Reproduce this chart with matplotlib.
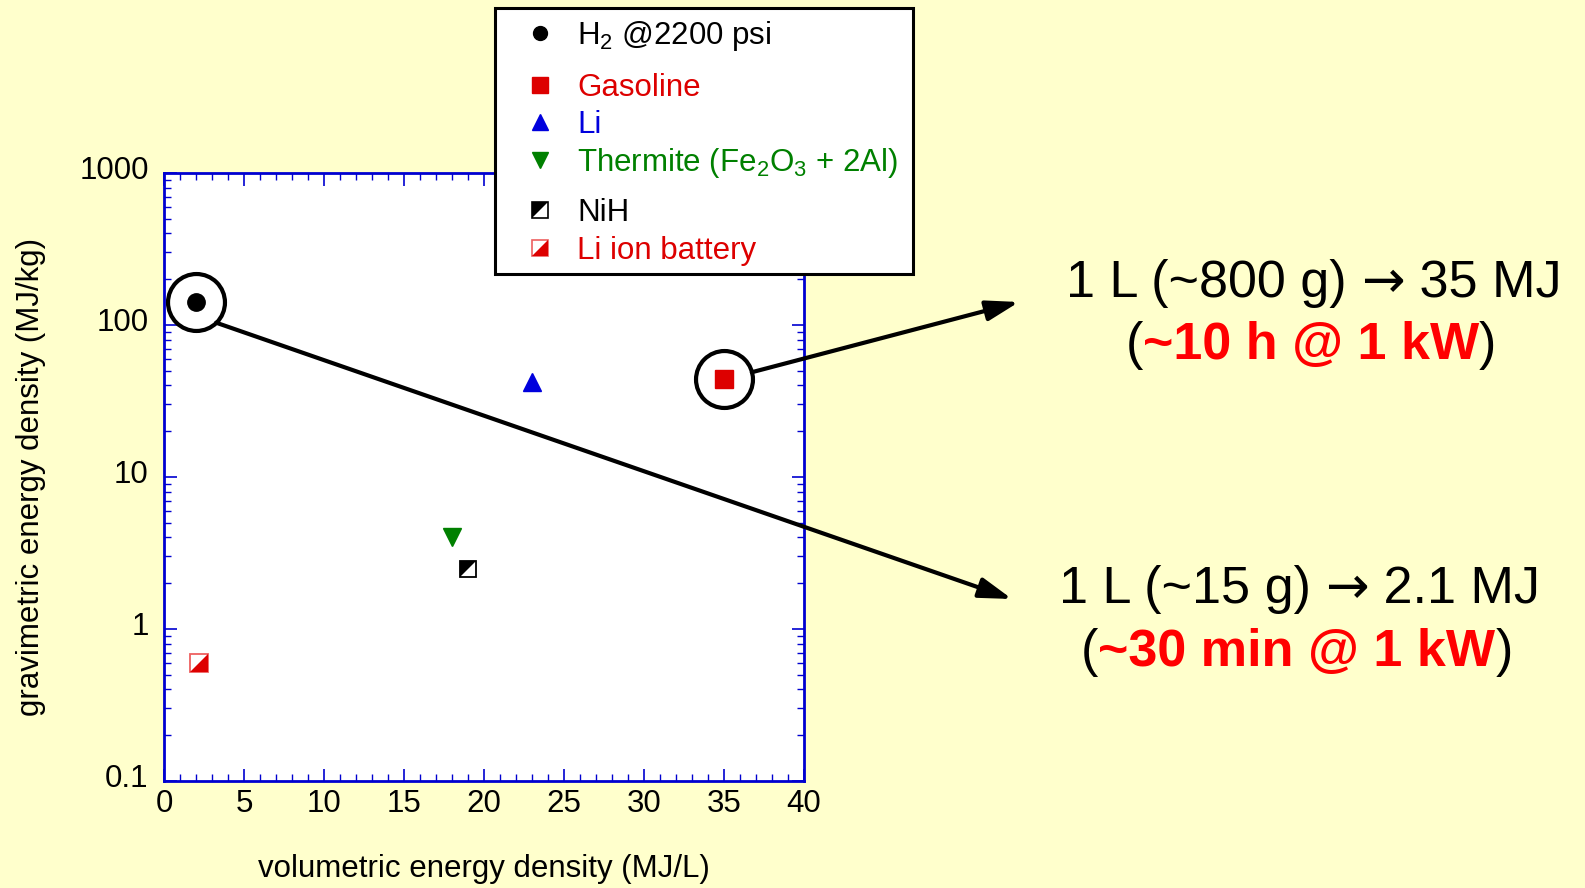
import matplotlib
matplotlib.use('Agg')
import matplotlib.pyplot as plt
import numpy as np
from matplotlib.path import Path
from matplotlib.lines import Line2D
from matplotlib.patches import Rectangle, ConnectionPatch
from matplotlib.ticker import LogLocator, MultipleLocator, FixedLocator, NullFormatter
import matplotlib.transforms as mtransforms

plt.rcParams['font.family'] = ['Liberation Sans', 'DejaVu Sans']
plt.rcParams['mathtext.fontset'] = 'custom'
plt.rcParams['mathtext.rm'] = 'Liberation Sans'
plt.rcParams['mathtext.it'] = 'Liberation Sans:italic'
plt.rcParams['mathtext.bf'] = 'Liberation Sans:bold'
plt.rcParams['mathtext.default'] = 'regular'

# ---------------- data ----------------
materials = ['H2 @2200 psi', 'Gasoline', 'Li', 'Thermite', 'NiH', 'Li ion battery']
legend_labels = [r'H$_2$ @2200 psi', 'Gasoline', 'Li',
                 r'Thermite (Fe$_2$O$_3$ + 2Al)', 'NiH', 'Li ion battery']
vol_density = [2.0, 35.0, 23.0, 18.0, 19.0, 2.2]       # MJ/L
grav_density = [142.0, 44.0, 42.0, 4.0, 2.5, 0.6]      # MJ/kg
colors = ['black', '#DD0000', '#0000DD', '#008000', 'black', '#DD0000']
x_ticks = [0, 5, 10, 15, 20, 25, 30, 35, 40]
y_ticks = [0.1, 1, 10, 100, 1000]
y_tick_labels = ['0.1', '1', '10', '100', '1000']
note_gasoline = ['1 L (~800 g) ', '\u2192', ' 35 MJ', '~10 h @ 1 kW']
note_h2 = ['1 L (~15 g) ', '\u2192', ' 2.1 MJ', '~30 min @ 1 kW']

W, H = 1585, 888
BG = '#FFFFCC'
SPINE = '#0000D0'

def fx(px):
    return px / W

def fy(py):
    return 1 - py / H

fig = plt.figure(figsize=(W / 100, H / 100), dpi=100, facecolor=BG)
ax = fig.add_axes([fx(164), fy(781), fx(804) - fx(164), fy(173) - fy(781)])
ax.set_facecolor('white')
ax.set_yscale('log')
ax.set_xlim(0, 40)
ax.set_ylim(0.1, 1000)

for s in ax.spines.values():
    s.set_color(SPINE)
    s.set_linewidth(2)

ax.xaxis.set_major_locator(FixedLocator(x_ticks))
ax.xaxis.set_minor_locator(MultipleLocator(1))
ax.set_xticks(x_ticks)
ax.set_xticklabels([str(t) for t in x_ticks])
ax.yaxis.set_major_locator(FixedLocator(y_ticks))
ax.set_yticks(y_ticks)
ax.set_yticklabels(y_tick_labels)
ax.yaxis.set_minor_locator(LogLocator(base=10, subs=np.arange(2, 10)))
ax.yaxis.set_minor_formatter(NullFormatter())
ax.tick_params(which='both', direction='in', top=True, right=True, color=SPINE,
               labelsize=22.5, labelcolor='black')
ax.tick_params(axis='x', which='both', pad=6)
ax.tick_params(axis='y', which='both', pad=11)
ax.tick_params(which='major', length=9, width=1.2)
ax.tick_params(which='minor', length=5, width=1.0)
# y tick labels sit slightly above their ticks in the reference
yoff = mtransforms.ScaledTranslation(0, 4 / 72, fig.dpi_scale_trans)
for lab in ax.get_yticklabels():
    lab.set_transform(lab.get_transform() + yoff)

# custom half-filled square markers
tri_ul = Path([(-1, -1), (-1, 1), (1, 1), (-1, -1)], closed=True)
tri_lr = Path([(-1, -1), (1, -1), (1, 1), (-1, -1)], closed=True)

# ---------------- data points ----------------
ax.plot(vol_density[0], grav_density[0], 'o', ms=12.5, color=colors[0], zorder=5)
ax.plot(vol_density[1], grav_density[1], 's', ms=13, color=colors[1], zorder=5)
ax.plot(vol_density[2], grav_density[2], '^', ms=12.5, color=colors[2], zorder=5)
ax.plot(vol_density[3], grav_density[3], 'v', ms=13, color=colors[3], zorder=5)
ax.plot(vol_density[4], grav_density[4], 's', ms=12, mfc='white', mec=colors[4], mew=1.3, zorder=5)
ax.plot(vol_density[4], grav_density[4], marker=tri_ul, ms=12, color=colors[4], mew=0, ls='none', zorder=6)
ax.plot(vol_density[5], grav_density[5], 's', ms=12.5, mfc='white', mec='#EE6060', mew=1.3, zorder=5)
ax.plot(vol_density[5], grav_density[5], marker=tri_lr, ms=12.5, color=colors[5], mew=0, ls='none', zorder=6)

# highlight circles
for i in (0, 1):
    ax.plot(vol_density[i], grav_density[i], 'o', ms=41, mfc='none', mec='black', mew=3,
            zorder=7, clip_on=False)

# ---------------- arrows ----------------
start_h2 = mtransforms.offset_copy(ax.transData, fig=fig, x=14.5, y=-15, units='points')
start_gas = mtransforms.offset_copy(ax.transData, fig=fig, x=20, y=5, units='points')
arrow_kw = dict(arrowstyle='-|>,head_length=0.9,head_width=0.28', mutation_scale=22,
                lw=3, color='black', zorder=8, shrinkA=0, shrinkB=0)
cp1 = ConnectionPatch(xyA=(vol_density[0], grav_density[0]), coordsA=start_h2,
                      xyB=(fx(1012), fy(599)), coordsB='figure fraction', **arrow_kw)
cp2 = ConnectionPatch(xyA=(vol_density[1], grav_density[1]), coordsA=start_gas,
                      xyB=(fx(1019), fy(302)), coordsB='figure fraction', **arrow_kw)
cp1.set_clip_on(False)
cp2.set_clip_on(False)
fig.add_artist(cp1)
fig.add_artist(cp2)

# ---------------- axis labels ----------------
fig.text(fx(484), fy(869), 'volumetric energy density (MJ/L)', ha='center', va='center',
         fontsize=22.5)
fig.text(fx(31), fy(477), 'gravimetric energy density (MJ/kg)', ha='center', va='center',
         rotation=90, fontsize=22.5)

# ---------------- legend (manual) ----------------
leg_box = Rectangle((fx(495), fy(274)), fx(913) - fx(495), fy(8) - fy(274),
                    transform=fig.transFigure, facecolor='white', edgecolor='black',
                    lw=2.2, zorder=20)
fig.add_artist(leg_box)
row_y = [33, 85, 122, 160, 210, 248]
mk_x = 540
tx_x = 577
leg_markers = [dict(marker='o', ms=10, color=colors[0]),
               dict(marker='s', ms=11, color=colors[1]),
               dict(marker='^', ms=11, color=colors[2]),
               dict(marker='v', ms=11, color=colors[3])]
for i in range(4):
    fig.add_artist(Line2D([fx(mk_x)], [fy(row_y[i])], transform=fig.transFigure,
                          ls='none', zorder=21, **leg_markers[i]))
fig.add_artist(Line2D([fx(mk_x)], [fy(row_y[4])], transform=fig.transFigure, ls='none',
                      marker='s', ms=11, mfc='white', mec='black', mew=1.2, zorder=21))
fig.add_artist(Line2D([fx(mk_x)], [fy(row_y[4])], transform=fig.transFigure, ls='none',
                      marker=tri_ul, ms=11, color='black', mew=0, zorder=22))
fig.add_artist(Line2D([fx(mk_x)], [fy(row_y[5])], transform=fig.transFigure, ls='none',
                      marker='s', ms=11, mfc='white', mec='#EE6060', mew=1.2, zorder=21))
fig.add_artist(Line2D([fx(mk_x)], [fy(row_y[5])], transform=fig.transFigure, ls='none',
                      marker=tri_lr, ms=11, color=colors[5], mew=0, zorder=22))
for i, lab in enumerate(legend_labels):
    fig.text(fx(tx_x), fy(row_y[i] + 11), lab, ha='left', va='baseline',
             fontsize=22.5, color=colors[i], zorder=23)

# ---------------- annotation texts ----------------
BIG = 37.5

def note(parts, arrow_cx, cx2, base1, base2):
    arr = fig.text(fx(arrow_cx), fy(base1), parts[1], ha='center', va='baseline',
                   fontsize=BIG, color='black', family=['DejaVu Sans'])
    fig.text(0, fy(base1), parts[0], ha='right', va='baseline', fontsize=BIG, color='black',
             transform=mtransforms.blended_transform_factory(
                 mtransforms.IdentityTransform(), fig.transFigure)).remove()
    ax.annotate(parts[0], xy=(0, fy(base1)), xycoords=(arr, 'figure fraction'), ha='right',
                va='baseline', fontsize=BIG, color='black', annotation_clip=False)
    ax.annotate(parts[2], xy=(1, fy(base1)), xycoords=(arr, 'figure fraction'), ha='left',
                va='baseline', fontsize=BIG, color='black', annotation_clip=False)
    red = fig.text(fx(cx2), fy(base2), parts[3], ha='center', va='baseline', fontsize=BIG,
                   color='#FF0000', fontweight='bold')
    ax.annotate('(', xy=(0, fy(base2)), xycoords=(red, 'figure fraction'), ha='right',
                va='baseline', fontsize=BIG, color='black', annotation_clip=False)
    ax.annotate(')', xy=(1, fy(base2)), xycoords=(red, 'figure fraction'), ha='left',
                va='baseline', fontsize=BIG, color='black', annotation_clip=False)

note(note_gasoline, 1383, 1311, 297, 359)
note(note_h2, 1347, 1297, 603, 666)

fig.savefig('out.png', dpi=100, facecolor=BG)
